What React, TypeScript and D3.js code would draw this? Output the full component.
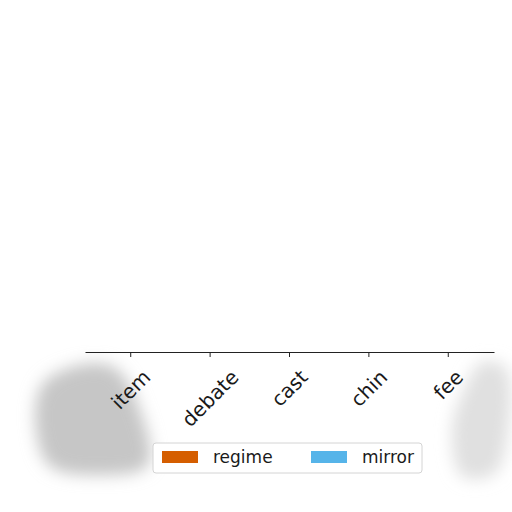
import React, { useEffect, useRef } from 'react';
import * as d3 from 'd3';

// chart data (no bars rise above the axis)
const categories = ['item', 'debate', 'cast', 'chin', 'fee'];
const seriesNames = ['regime', 'mirror'];
const regimeValues = [0, 0, 0, 0, 0];
const mirrorValues = [0, 0, 0, 0, 0];
const seriesColors = ['#D55E00', '#56B4E9'];

const width = 512;
const height = 512;
const axisY = 352;
const font = 'DejaVu Sans, sans-serif';

const App: React.FC = () => {
  const ref = useRef<SVGSVGElement>(null);

  useEffect(() => {
    if (!ref.current) return;
    const svg = d3.select(ref.current);
    svg.selectAll('*').remove();

    // soft grey smudges around the lower part of the figure
    const defs = svg.append('defs');
    defs.append('filter').attr('id', 'smudge')
      .attr('x', '-50%').attr('y', '-50%').attr('width', '200%').attr('height', '200%')
      .append('feGaussianBlur').attr('stdDeviation', 8);
    const line = d3.line().curve(d3.curveCatmullRomClosed);
    svg.append('path')
      .attr('d', line([[42, 385], [80, 365], [115, 368], [140, 410], [148, 465], [100, 475], [50, 466], [36, 430]]))
      .attr('fill', '#c6c6c6')
      .attr('filter', 'url(#smudge)');
    svg.append('path')
      .attr('d', line([[482, 362], [506, 368], [507, 440], [494, 474], [462, 476], [452, 430], [464, 390]]))
      .attr('fill', '#e0e0e0')
      .attr('filter', 'url(#smudge)');

    const x = d3.scaleBand<string>()
      .domain(categories)
      .range([85, 494])
      .paddingInner(0)
      .paddingOuter(0.076);

    const xSub = d3.scaleBand<string>()
      .domain(seriesNames)
      .range([0, x.bandwidth()])
      .padding(0.1);

    const y = d3.scaleLinear().domain([0, 1]).range([axisY, 40]);

    const rows = categories.map((c, i) => ({ cat: c, vals: [regimeValues[i], mirrorValues[i]] }));

    const groups = svg.append('g').selectAll('g')
      .data(rows)
      .enter().append('g')
      .attr('transform', d => `translate(${x(d.cat)},0)`);

    groups.selectAll('rect')
      .data(d => d.vals.map((v, j) => ({ v, j })))
      .enter().append('rect')
      .attr('x', d => xSub(seriesNames[d.j])!)
      .attr('width', xSub.bandwidth())
      .attr('y', d => y(d.v))
      .attr('height', d => axisY - y(d.v))
      .attr('fill', d => seriesColors[d.j]);

    const tickLen = 5;
    const axis = svg.append('g')
      .attr('transform', `translate(0,${axisY})`)
      .call(d3.axisBottom(x).tickSize(tickLen).tickSizeOuter(0));

    axis.select('.domain').attr('stroke', '#222').attr('stroke-width', 1.1);
    axis.selectAll('.tick line').attr('stroke', '#222');
    axis.selectAll('.tick text').remove();

    // rotated labels, bounding box centred under each tick
    axis.selectAll<SVGGElement, string>('.tick').each(function (d) {
      const g = d3.select(this).append('g');
      const t = g.append('text')
        .attr('text-anchor', 'middle')
        .attr('dominant-baseline', 'central')
        .attr('font-family', font)
        .attr('font-size', 20)
        .attr('fill', '#1a1a1a')
        .text(d);
      const b = (t.node() as SVGTextElement).getBBox();
      const half = (b.width + b.height) * Math.SQRT1_2 / 2;
      g.attr('transform', `translate(0,${tickLen + 8 + half}) rotate(-45)`);
    });

    // legend
    const legend = svg.append('g');
    legend.append('rect')
      .attr('x', 153).attr('y', 443)
      .attr('width', 269).attr('height', 30)
      .attr('rx', 3)
      .attr('fill', '#fff')
      .attr('stroke', '#d4d4d4');

    const items = legend.selectAll('g.item')
      .data(seriesNames)
      .enter().append('g')
      .attr('class', 'item')
      .attr('transform', (_d, i) => `translate(${162 + i * 149},451)`);

    items.append('rect')
      .attr('width', 36).attr('height', 12)
      .attr('fill', (_d, i) => seriesColors[i]);

    items.append('text')
      .attr('x', 51).attr('y', 6)
      .attr('dominant-baseline', 'central')
      .attr('font-family', font)
      .attr('font-size', 17)
      .attr('fill', '#1a1a1a')
      .text(d => d);
  }, []);

  return (
    <svg ref={ref} width={width} height={height}
      style={{ position: 'absolute', left: 0, top: 0, background: '#fff' }} />
  );
};

export default App;
